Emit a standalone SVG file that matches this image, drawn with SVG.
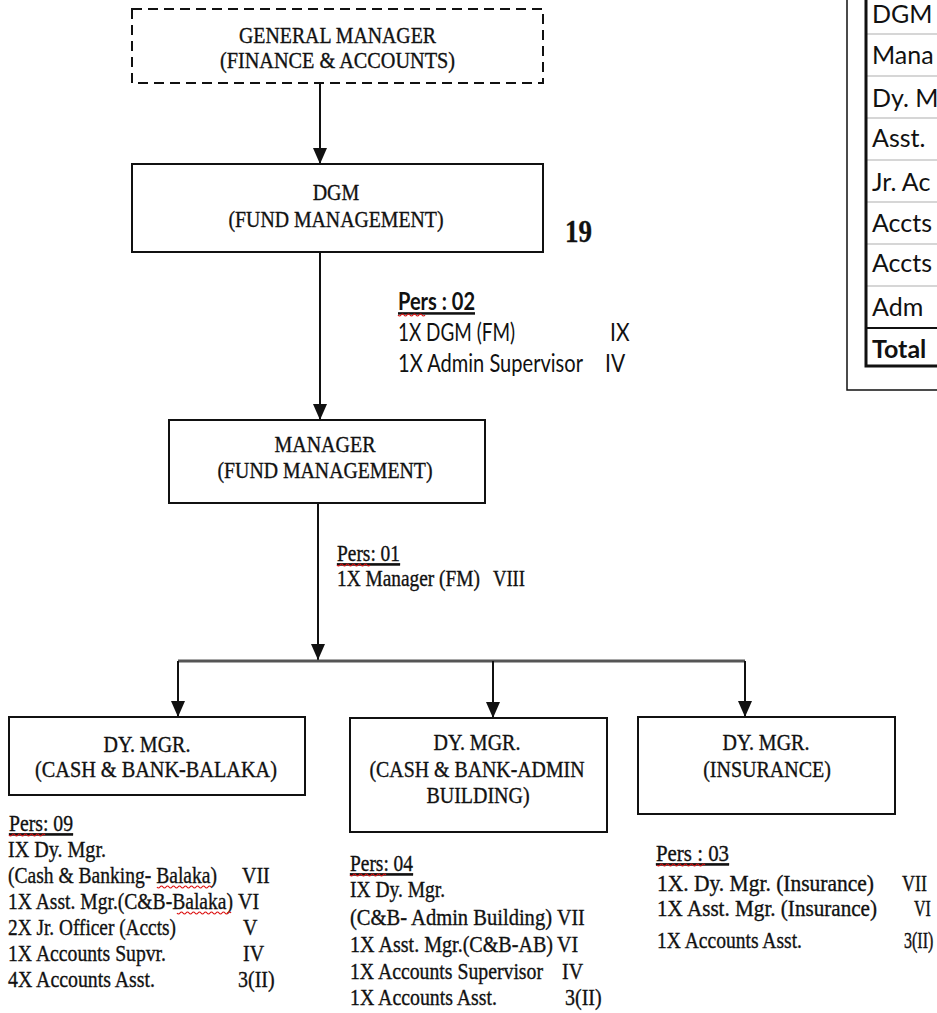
<svg xmlns="http://www.w3.org/2000/svg" width="937" height="1013" viewBox="0 0 937 1013">
<defs>
<style>
.s{font-family:"Liberation Serif","Times New Roman",serif;font-size:20px;fill:#111;stroke:#111;stroke-width:0.3}
.a{font-family:Lato,"Liberation Sans",sans-serif;font-size:21px;fill:#111}
.t{font-family:Lato,"Liberation Sans",sans-serif;font-size:25px;fill:#111}
.box{fill:#fff;stroke:#111;stroke-width:2}
.dash{fill:#fff;stroke:#111;stroke-width:2;stroke-dasharray:10 6}
.conn{stroke:#111;stroke-width:2;fill:none}
.bus{stroke:#555;stroke-width:3;fill:none}
.sq{stroke:#d11;stroke-width:1.2;fill:none}
.sep{stroke:#c8c8c8;stroke-width:1.5}
</style>
<marker id="arr" viewBox="0 0 10 10" refX="10" refY="5" markerUnits="userSpaceOnUse" markerWidth="16" markerHeight="14" preserveAspectRatio="none" orient="auto">
<path d="M0,0 L10,5 L0,10 z" fill="#111"/>
</marker>
</defs>
<rect width="937" height="1013" fill="#fff"/>

<g id="connectors">
<line class="conn" x1="320" y1="83" x2="320" y2="164" marker-end="url(#arr)"/>
<line class="conn" x1="320" y1="252" x2="320" y2="420" marker-end="url(#arr)"/>
<line class="conn" x1="318" y1="503" x2="318" y2="660" marker-end="url(#arr)"/>
<path class="bus" d="M178,661 H745"/>
<line class="conn" x1="178" y1="661" x2="178" y2="717" marker-end="url(#arr)"/>
<line class="conn" x1="493" y1="661" x2="493" y2="718" marker-end="url(#arr)"/>
<line class="conn" x1="745" y1="661" x2="745" y2="717" marker-end="url(#arr)"/>
</g>

<g id="gm">
<rect class="dash" x="132" y="9" width="411" height="74"/>
<text class="s" text-anchor="middle" transform="translate(337.5 43) scale(1 1.2)" textLength="197" lengthAdjust="spacingAndGlyphs">GENERAL MANAGER</text>
<text class="s" text-anchor="middle" transform="translate(337.5 68) scale(1 1.2)" textLength="235" lengthAdjust="spacingAndGlyphs">(FINANCE &amp; ACCOUNTS)</text>
</g>

<g id="dgm">
<rect class="box" x="132" y="164" width="411" height="88"/>
<text class="s" text-anchor="middle" transform="translate(336 200) scale(1 1.2)">DGM</text>
<text class="s" text-anchor="middle" transform="translate(336 227) scale(1 1.2)" textLength="215" lengthAdjust="spacingAndGlyphs">(FUND MANAGEMENT)</text>
</g>

<g id="count-19">
<text class="s" transform="translate(565 242) scale(1 1.2)" style="font-size:27px;font-weight:bold">19</text>
</g>

<g id="table">
<path d="M847,0 V390 H937" fill="none" stroke="#111" stroke-width="1.5"/>
<line class="sep" x1="867" y1="34" x2="937" y2="34"/>
<line class="sep" x1="867" y1="76" x2="937" y2="76"/>
<line class="sep" x1="867" y1="118" x2="937" y2="118"/>
<line class="sep" x1="867" y1="160" x2="937" y2="160"/>
<line class="sep" x1="867" y1="202" x2="937" y2="202"/>
<line class="sep" x1="867" y1="244" x2="937" y2="244"/>
<line class="sep" x1="867" y1="286" x2="937" y2="286"/>
<line x1="866" y1="328" x2="937" y2="328" stroke="#111" stroke-width="2"/>
<path d="M866,0 V366 H937" fill="none" stroke="#111" stroke-width="3"/>
<text class="t" x="872" y="23">DGM</text>
<text class="t" x="872" y="64">Mana</text>
<text class="t" x="872" y="107">Dy. M</text>
<text class="t" x="872" y="147">Asst.</text>
<text class="t" x="872" y="191">Jr. Ac</text>
<text class="t" x="872" y="232">Accts</text>
<text class="t" x="872" y="272">Accts</text>
<text class="t" x="872" y="316">Adm</text>
<text class="t" x="872" y="358" style="font-weight:bold">Total</text>
</g>

<g id="pers-02">
<text class="a" transform="translate(398 310) scale(1 1.2)" style="font-weight:bold;text-decoration:underline" textLength="77" lengthAdjust="spacingAndGlyphs">Pers : 02</text>
<path class="sq" d="M398,315 q1.5,2 3,0 t3,0 t3,0 t3,0 t3,0 t3,0 t3,0 t3,0 t3,0"/>
<text class="a" transform="translate(398 341) scale(1 1.2)" textLength="117" lengthAdjust="spacingAndGlyphs">1X DGM (FM)</text>
<text class="a" transform="translate(610 341) scale(1 1.2)">IX</text>
<text class="a" transform="translate(398 372) scale(1 1.2)" textLength="185" lengthAdjust="spacingAndGlyphs">1X Admin Supervisor</text>
<text class="a" transform="translate(605 372) scale(1 1.2)">IV</text>
</g>

<g id="manager">
<rect class="box" x="169" y="420" width="316" height="83"/>
<text class="s" text-anchor="middle" transform="translate(325 452) scale(1 1.2)">MANAGER</text>
<text class="s" text-anchor="middle" transform="translate(325 478) scale(1 1.2)" textLength="215" lengthAdjust="spacingAndGlyphs">(FUND MANAGEMENT)</text>
</g>

<g id="pers-01">
<text class="s" transform="translate(337 561) scale(1 1.2)" style="text-decoration:underline" textLength="63" lengthAdjust="spacingAndGlyphs">Pers: 01</text>
<path class="sq" d="M337,565 q1.5,2 3,0 t3,0 t3,0 t3,0 t3,0 t3,0 t3,0 t3,0 t3,0 t3,0 t3,0"/>
<text class="s" transform="translate(337 586) scale(1 1.2)" textLength="143" lengthAdjust="spacingAndGlyphs">1X Manager (FM)</text>
<text class="s" transform="translate(493 586) scale(1 1.2)" textLength="32" lengthAdjust="spacingAndGlyphs">VIII</text>
</g>

<g id="dymgr-balaka">
<rect class="box" x="9" y="717" width="296" height="78"/>
<text class="s" text-anchor="middle" transform="translate(147 752) scale(1 1.2)">DY. MGR.</text>
<text class="s" text-anchor="middle" transform="translate(156 777) scale(1 1.2)" textLength="242" lengthAdjust="spacingAndGlyphs">(CASH &amp; BANK-BALAKA)</text>
</g>

<g id="pers-09">
<text class="s" transform="translate(9 831) scale(1 1.2)" style="text-decoration:underline" textLength="64" lengthAdjust="spacingAndGlyphs">Pers: 09</text>
<path class="sq" d="M9,835 q1.5,2 3,0 t3,0 t3,0 t3,0 t3,0 t3,0 t3,0 t3,0 t3,0 t3,0 t3,0 t3,0"/>
<text class="s" transform="translate(8 857) scale(1 1.2)" textLength="98" lengthAdjust="spacingAndGlyphs">IX Dy. Mgr.</text>
<text class="s" transform="translate(8 883) scale(1 1.2)" textLength="209" lengthAdjust="spacingAndGlyphs">(Cash &amp; Banking- Balaka)</text>
<path class="sq" d="M157,887 q1.5,2 3,0 t3,0 t3,0 t3,0 t3,0 t3,0 t3,0 t3,0 t3,0 t3,0 t3,0 t3,0 t3,0 t3,0 t3,0 t3,0 t3,0 t3,0"/>
<text class="s" transform="translate(242 883) scale(1 1.2)">VII</text>
<text class="s" transform="translate(8 909) scale(1 1.2)" textLength="225" lengthAdjust="spacingAndGlyphs">1X Asst. Mgr.(C&amp;B-Balaka)</text>
<path class="sq" d="M177,913 q1.5,2 3,0 t3,0 t3,0 t3,0 t3,0 t3,0 t3,0 t3,0 t3,0 t3,0 t3,0 t3,0 t3,0 t3,0 t3,0 t3,0 t3,0 t3,0"/>
<text class="s" transform="translate(238 909) scale(1 1.2)">VI</text>
<text class="s" transform="translate(8 935) scale(1 1.2)" textLength="168" lengthAdjust="spacingAndGlyphs">2X Jr. Officer (Accts)</text>
<text class="s" transform="translate(243 935) scale(1 1.2)">V</text>
<text class="s" transform="translate(8 961) scale(1 1.2)" textLength="158" lengthAdjust="spacingAndGlyphs">1X Accounts Supvr.</text>
<text class="s" transform="translate(243 961) scale(1 1.2)">IV</text>
<text class="s" transform="translate(8 987) scale(1 1.2)" textLength="147" lengthAdjust="spacingAndGlyphs">4X Accounts Asst.</text>
<text class="s" transform="translate(238 987) scale(1 1.2)">3(II)</text>
</g>

<g id="dymgr-admin">
<rect class="box" x="350" y="718" width="257" height="114"/>
<text class="s" text-anchor="middle" transform="translate(477 750) scale(1 1.2)">DY. MGR.</text>
<text class="s" text-anchor="middle" transform="translate(477 777) scale(1 1.2)" textLength="215" lengthAdjust="spacingAndGlyphs">(CASH &amp; BANK-ADMIN</text>
<text class="s" text-anchor="middle" transform="translate(478 803) scale(1 1.2)">BUILDING)</text>
</g>

<g id="pers-04">
<text class="s" transform="translate(350 871) scale(1 1.2)" style="text-decoration:underline" textLength="63" lengthAdjust="spacingAndGlyphs">Pers: 04</text>
<path class="sq" d="M350,875 q1.5,2 3,0 t3,0 t3,0 t3,0 t3,0 t3,0 t3,0 t3,0 t3,0 t3,0 t3,0 t3,0"/>
<text class="s" transform="translate(350 897) scale(1 1.2)" textLength="95" lengthAdjust="spacingAndGlyphs">IX Dy. Mgr.</text>
<text class="s" transform="translate(350 925) scale(1 1.2)" textLength="202" lengthAdjust="spacingAndGlyphs">(C&amp;B- Admin Building)</text>
<text class="s" transform="translate(557 925) scale(1 1.2)">VII</text>
<text class="s" transform="translate(350 952) scale(1 1.2)" textLength="203" lengthAdjust="spacingAndGlyphs">1X Asst. Mgr.(C&amp;B-AB)</text>
<text class="s" transform="translate(557 952) scale(1 1.2)">VI</text>
<text class="s" transform="translate(350 979) scale(1 1.2)" textLength="193" lengthAdjust="spacingAndGlyphs">1X Accounts Supervisor</text>
<text class="s" transform="translate(562 979) scale(1 1.2)">IV</text>
<text class="s" transform="translate(350 1005) scale(1 1.2)" textLength="147" lengthAdjust="spacingAndGlyphs">1X Accounts Asst.</text>
<text class="s" transform="translate(565 1005) scale(1 1.2)">3(II)</text>
</g>

<g id="dymgr-insurance">
<rect class="box" x="638" y="717" width="257" height="97"/>
<text class="s" text-anchor="middle" transform="translate(766 750) scale(1 1.2)">DY. MGR.</text>
<text class="s" text-anchor="middle" transform="translate(767 777) scale(1 1.2)">(INSURANCE)</text>
</g>

<g id="pers-03">
<text class="s" transform="translate(656 861) scale(1 1.2)" style="text-decoration:underline" textLength="73" lengthAdjust="spacingAndGlyphs">Pers : 03</text>
<path class="sq" d="M657,865 q1.5,2 3,0 t3,0 t3,0 t3,0 t3,0 t3,0 t3,0 t3,0 t3,0 t3,0 t3,0 t3,0 t3,0 t3,0 t3,0 t3,0"/>
<text class="s" transform="translate(657 891) scale(1 1.2)" textLength="217" lengthAdjust="spacingAndGlyphs">1X. Dy. Mgr. (Insurance)</text>
<text class="s" transform="translate(902 891) scale(1 1.333)" style="font-size:18px">VII</text>
<text class="s" transform="translate(657 916) scale(1 1.2)" textLength="220" lengthAdjust="spacingAndGlyphs">1X Asst. Mgr. (Insurance)</text>
<text class="s" transform="translate(914 916) scale(1 1.5)" style="font-size:16px">VI</text>
<text class="s" transform="translate(904 948) scale(1 1.5)" style="font-size:16px">3(II)</text>
<text class="s" transform="translate(657 948) scale(1 1.2)" textLength="145" lengthAdjust="spacingAndGlyphs">1X Accounts Asst.</text>
</g>
</svg>
